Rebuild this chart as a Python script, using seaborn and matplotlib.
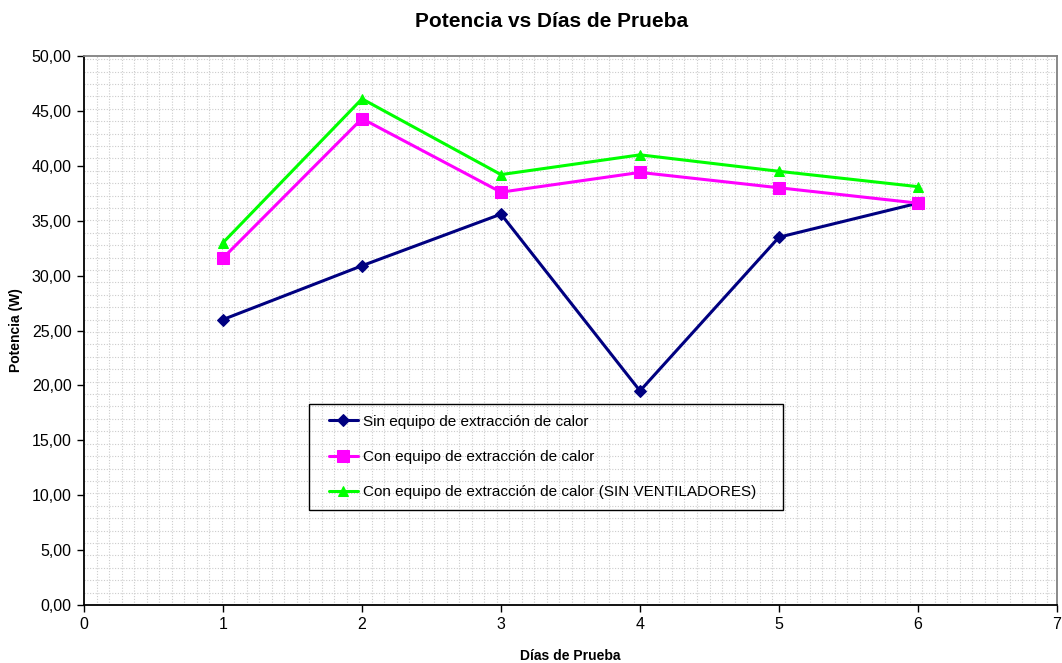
import numpy as np
import pandas as pd
import matplotlib
matplotlib.use("Agg")
import matplotlib.pyplot as plt
import seaborn as sns
from matplotlib.ticker import MultipleLocator, FuncFormatter
from matplotlib.lines import Line2D
from matplotlib.legend_handler import HandlerLine2D

sns.set_style("white")
plt.rcParams['font.family'] = ['Liberation Sans', 'DejaVu Sans']
plt.rcParams.update({"text.color": "black", "axes.labelcolor": "black",
                     "xtick.color": "black", "ytick.color": "black"})

dias = [1, 2, 3, 4, 5, 6]
sin_equipo = [26.0, 30.9, 35.6, 19.5, 33.5, 36.6]
con_equipo = [31.6, 44.3, 37.6, 39.4, 38.0, 36.6]
sin_ventiladores = [33.0, 46.1, 39.2, 41.0, 39.5, 38.1]

series = {
    "Sin equipo de extracción de calor": sin_equipo,
    "Con equipo de extracción de calor": con_equipo,
    "Con equipo de extracción de calor (SIN VENTILADORES)": sin_ventiladores,
}
styles = {
    "Sin equipo de extracción de calor": dict(color="#000080", marker="D", markersize=6.2),
    "Con equipo de extracción de calor": dict(color="#FF00FF", marker="s", markersize=8.2),
    "Con equipo de extracción de calor (SIN VENTILADORES)": dict(color="#00FF00", marker="^", markersize=6.8),
}

df = pd.DataFrame([
    {"Días de Prueba": d, "Potencia (W)": v, "serie": name}
    for name, vals in series.items() for d, v in zip(dias, vals)
])

fig, ax = plt.subplots(figsize=(10.62, 6.63), dpi=100)
fig.subplots_adjust(left=0.0791, right=0.9953, top=0.9155, bottom=0.0875)

for name in series:
    st = styles[name]
    sns.lineplot(data=df[df.serie == name], x="Días de Prueba", y="Potencia (W)",
                 ax=ax, color=st["color"], marker=st["marker"],
                 markersize=st["markersize"], markeredgecolor=st["color"],
                 linewidth=2.2, label=name, zorder=3)

ax.set_xlim(0, 7)
ax.set_ylim(0, 50)
ax.xaxis.set_major_locator(MultipleLocator(1))
ax.yaxis.set_major_locator(MultipleLocator(5))
# dotted pattern background
ax.xaxis.set_minor_locator(MultipleLocator(0.09))
ax.yaxis.set_minor_locator(MultipleLocator(1.13))
ax.grid(which="minor", color="#cccccc", linestyle=(0, (1, 1.5)), linewidth=0.8)
ax.grid(which="major", visible=False)
ax.tick_params(which="minor", length=0)
ax.tick_params(which="major", direction="out", length=5, width=1, color="black",
               labelsize=11.5, left=True, bottom=True, pad=4)
ax.yaxis.set_major_formatter(FuncFormatter(lambda v, p: f"{v:.2f}".replace(".", ",")))

for s in ["left", "bottom"]:
    ax.spines[s].set_color("black")
    ax.spines[s].set_linewidth(1.3)
for s in ["top", "right"]:
    ax.spines[s].set_color("#808080")
    ax.spines[s].set_linewidth(1.3)

ax.set_xlabel("Días de Prueba", fontsize=10, fontweight="bold", labelpad=12)
ax.set_ylabel("Potencia (W)", fontsize=10, fontweight="bold", labelpad=6)
ax.set_title("Potencia vs Días de Prueba", fontsize=15, fontweight="bold",
             pad=21, x=0.481)

handles, labels = ax.get_legend_handles_labels()
leg = ax.legend(handles, labels, loc="lower left",
                bbox_to_anchor=(0.231, 0.173, 0.487, 0.191), mode="expand",
                fontsize=11, frameon=True, fancybox=False,
                facecolor="none", edgecolor="black", labelspacing=1.4,
                handlelength=2.5, handletextpad=0.35, borderpad=0.7,
                borderaxespad=0,
                handler_map={Line2D: HandlerLine2D(xpad=0.6)})
leg.get_frame().set_linewidth(1.0)
leg.get_frame().set_alpha(None)

fig.savefig("out.png", dpi=100)
